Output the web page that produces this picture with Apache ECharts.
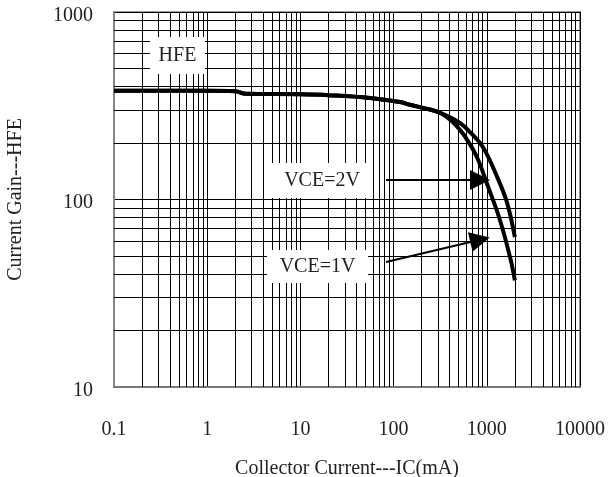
<!DOCTYPE html>
<html>
<head>
<meta charset="utf-8">
<script src="https://cdn.jsdelivr.net/npm/echarts@6/dist/echarts.min.js"></script>
<style>
  html, body { margin: 0; padding: 0; background: #fff; }
  #chart { width: 611px; height: 477px; }
</style>
</head>
<body>
<div id="chart"></div>
<script>
// collector current (mA) and current gain for each VCE curve
const icVce1 = [0.1, 1, 2, 2.6, 10, 20, 56, 117, 150, 245, 316, 420, 515, 590, 780, 1000, 1380, 1780, 2000];
const hfeVce1 = [380, 380, 378, 366, 364, 360, 348, 331, 320, 302, 290, 262, 235, 215, 169, 122, 78, 49, 37];
const icVce2 = [0.1, 1, 2, 2.6, 10, 20, 56, 117, 150, 245, 316, 420, 515, 660, 910, 1290, 1650, 2000];
const hfeVce2 = [380, 380, 378, 366, 364, 360, 348, 331, 320, 302, 290, 272, 256, 229, 190, 132, 96, 63];

const xTickValues = [0.1, 1, 10, 100, 1000, 10000];
const xTickLabels = ['0.1', '1', '10', '100', '1000', '10000'];
const yTickValues = [10, 100, 1000];
const yTickLabels = ['10', '100', '1000'];
const minorSteps = [2, 3, 4, 5, 6, 7, 8, 9];

// arrows: [from, to] in data coords (mA, hFE)
const arrowVce2 = [[83, 127], [845, 127]];
const arrowVce1 = [[83, 46.4], [845, 61]];

const font = 'Liberation Serif';
const chart = echarts.init(document.getElementById('chart'));

const minorX = [];
xTickValues.slice(0, -1).forEach(d => minorSteps.forEach(m => minorX.push({ xAxis: +(d * m).toPrecision(3) })));
const minorY = [];
yTickValues.slice(0, -1).forEach(d => minorSteps.forEach(m => minorY.push({ yAxis: d * m })));

const pair = (xs, ys) => xs.map((x, i) => [x, ys[i]]);

const labelBox = (x, y, w, h, text) => ({
  type: 'group',
  z: 100,
  children: [
    { type: 'rect', shape: { x: x, y: y, width: w, height: h }, style: { fill: '#fff' }, z: 100 },
    {
      type: 'text', x: x + w / 2, y: y + h / 2, z: 101,
      style: { text: text, fill: '#222', font: '20px "' + font + '"', align: 'center', verticalAlign: 'middle' }
    }
  ]
});

const findLabel = (vals, labels, v) =>
  labels[vals.findIndex(t => Math.abs(Math.log10(t) - Math.log10(v)) < 1e-6)] ?? '';

chart.setOption({
  animation: false,
  grid: {
    left: 114, right: 31, top: 12, bottom: 90, show: true, borderColor: '#999', borderWidth: 2,
    containLabel: false, outerBoundsMode: 'none'
  },
  xAxis: {
    type: 'log', logBase: 10, min: 0.1, max: 10000,
    name: 'Collector Current---IC(mA)', nameLocation: 'middle', nameGap: 72,
    nameTextStyle: { fontFamily: font, fontSize: 20, color: '#222' },
    axisLine: { show: true, lineStyle: { color: '#777', width: 2 } },
    axisTick: { show: false },
    axisLabel: {
      margin: 33, fontFamily: font, fontSize: 20, color: '#222',
      formatter: v => findLabel(xTickValues, xTickLabels, v)
    },
    splitLine: { show: true, lineStyle: { color: '#000', width: 1 } }
  },
  yAxis: {
    type: 'log', logBase: 10, min: 10, max: 1000,
    name: 'Current Gain---HFE', nameLocation: 'middle', nameGap: 88,
    nameTextStyle: { fontFamily: font, fontSize: 20, color: '#222' },
    axisLine: { show: true, lineStyle: { color: '#888', width: 2 } },
    axisTick: { show: false },
    axisLabel: {
      margin: 21, fontFamily: font, fontSize: 20, color: '#222', verticalAlign: 'top', lineHeight: 7,
      formatter: v => findLabel(yTickValues, yTickLabels, v)
    },
    splitLine: { show: true, lineStyle: { color: '#000', width: 1 } }
  },
  series: [
    {
      name: 'grid', type: 'line', data: [], z: 1, silent: true,
      markLine: {
        silent: true, symbol: 'none', animation: false,
        label: { show: false },
        lineStyle: { color: '#000', width: 1, type: 'solid' },
        data: minorX.concat(minorY)
      }
    },
    {
      name: 'VCE=1V', type: 'line', data: pair(icVce1, hfeVce1), showSymbol: false, smooth: 0.4, z: 3,
      lineStyle: { color: '#000', width: 4 },
      markLine: {
        silent: true, symbol: ['none', 'triangle'], symbolSize: 20,
        label: { show: false },
        lineStyle: { color: '#000', width: 2, type: 'solid' },
        itemStyle: { color: '#000' },
        data: [
          [{ coord: arrowVce2[0] }, { coord: arrowVce2[1] }],
          [{ coord: arrowVce1[0] }, { coord: arrowVce1[1] }]
        ]
      }
    },
    {
      name: 'VCE=2V', type: 'line', data: pair(icVce2, hfeVce2), showSymbol: false, smooth: 0.4, z: 3,
      lineStyle: { color: '#000', width: 4 }
    }
  ],
  graphic: [
    labelBox(150, 37, 55, 37, 'HFE'),
    labelBox(272, 163, 100, 35, 'VCE=2V'),
    labelBox(267, 250, 101, 33, 'VCE=1V')
  ]
});
</script>
</body>
</html>
